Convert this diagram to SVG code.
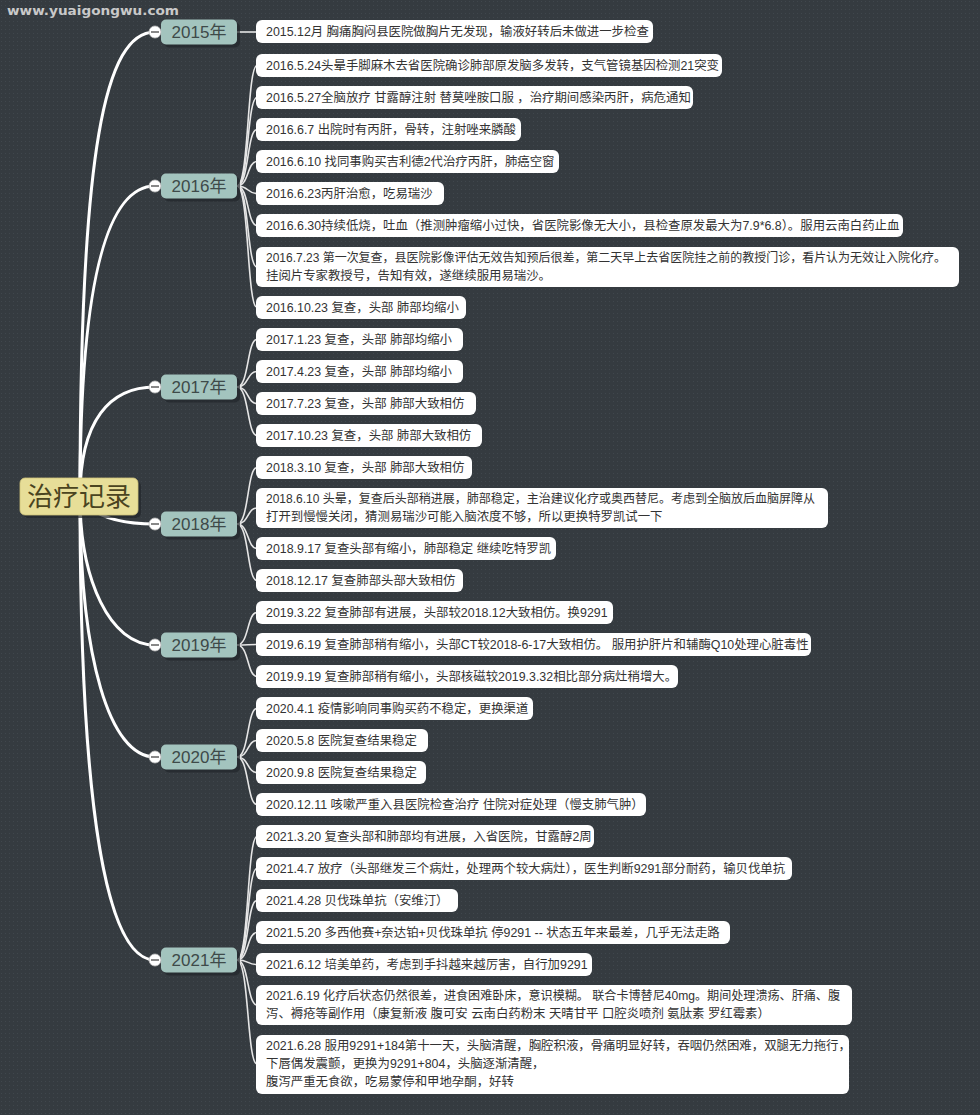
<svg xmlns="http://www.w3.org/2000/svg" width="980" height="1115" viewBox="0 0 980 1115">
<defs>
<pattern id="dots" width="4" height="4" patternUnits="userSpaceOnUse">
<rect width="4" height="4" fill="#353b40"/>
<rect x="1" y="1" width="1" height="1" fill="#40474d"/>
</pattern>
<style>
text{font-family:"Liberation Sans","Noto Sans CJK SC",sans-serif}
.leaf{fill:#ffffff}
.lt{font-size:12.4px;fill:#333333}
.yr{fill:#a3c4be}
.ysh{fill:#22272b;opacity:0.7}
.yt{font-size:17px;fill:#3e4a49;text-anchor:middle}
.main{fill:none;stroke:#ffffff;stroke-width:3;stroke-linecap:round}
.sub{fill:none;stroke:#e6e6e6;stroke-width:1.6}
.tog{fill:#ffffff;stroke:#bfbfbf;stroke-width:0.8}
.minus{stroke:#555;stroke-width:1.4}
</style>
</defs>
<rect width="980" height="1115" fill="url(#dots)"/>
<text x="7" y="15" font-weight="bold" font-size="12" fill="#c9c9c9" textLength="172" lengthAdjust="spacingAndGlyphs" style="font-family:'DejaVu Sans',sans-serif">www.yuaigongwu.com</text>

<g id="connectors">
<path class="main" d="M80,497 C80,150 105,32 155,32"/>
<path class="main" d="M80,497 C80,270 110,186 155,186"/>
<path class="main" d="M80,497 C80,420 110,387 155,387"/>
<path class="main" d="M80,497 C92,516 120,524 155,524"/>
<path class="main" d="M80,497 C80,580 110,645 155,645"/>
<path class="main" d="M80,497 C80,660 110,757 155,757"/>
<path class="main" d="M80,497 C80,800 105,960 155,960"/>
<path class="sub" d="M237,32 L257,32"/>
<path class="sub" d="M237,186 C249,186 247,65.5 257,65.5"/>
<path class="sub" d="M237,186 C249,186 247,97.5 257,97.5"/>
<path class="sub" d="M237,186 C249,186 247,129.5 257,129.5"/>
<path class="sub" d="M237,186 C249,186 247,161.5 257,161.5"/>
<path class="sub" d="M237,186 C249,186 247,193.5 257,193.5"/>
<path class="sub" d="M237,186 C249,186 247,225.5 257,225.5"/>
<path class="sub" d="M237,186 C249,186 247,267 257,267"/>
<path class="sub" d="M237,186 C249,186 247,307.5 257,307.5"/>
<path class="sub" d="M237,387 C249,387 247,339.5 257,339.5"/>
<path class="sub" d="M237,387 C249,387 247,371.5 257,371.5"/>
<path class="sub" d="M237,387 C249,387 247,403.5 257,403.5"/>
<path class="sub" d="M237,387 C249,387 247,435.5 257,435.5"/>
<path class="sub" d="M237,524 C249,524 247,467.5 257,467.5"/>
<path class="sub" d="M237,524 C249,524 247,508 257,508"/>
<path class="sub" d="M237,524 C249,524 247,548.5 257,548.5"/>
<path class="sub" d="M237,524 C249,524 247,580.5 257,580.5"/>
<path class="sub" d="M237,645 C249,645 247,612.5 257,612.5"/>
<path class="sub" d="M237,645 C249,645 247,644.5 257,644.5"/>
<path class="sub" d="M237,645 C249,645 247,676.5 257,676.5"/>
<path class="sub" d="M237,757 C249,757 247,708.5 257,708.5"/>
<path class="sub" d="M237,757 C249,757 247,740.5 257,740.5"/>
<path class="sub" d="M237,757 C249,757 247,772.5 257,772.5"/>
<path class="sub" d="M237,757 C249,757 247,804.5 257,804.5"/>
<path class="sub" d="M237,960 C249,960 247,836.5 257,836.5"/>
<path class="sub" d="M237,960 C249,960 247,868.5 257,868.5"/>
<path class="sub" d="M237,960 C249,960 247,900.5 257,900.5"/>
<path class="sub" d="M237,960 C249,960 247,932.5 257,932.5"/>
<path class="sub" d="M237,960 C249,960 247,964.5 257,964.5"/>
<path class="sub" d="M237,960 C249,960 247,1005 257,1005"/>
<path class="sub" d="M237,960 C249,960 247,1064 257,1064"/>
</g>

<g id="root">
<rect x="23" y="481" width="118" height="37" rx="5" fill="#22272b" opacity="0.7"/>
<rect x="20" y="478" width="118" height="37" rx="5" fill="#e7de98" stroke="#cfc37a" stroke-width="0.8"/>
<text x="79" y="506" font-size="26" fill="#4a4420" text-anchor="middle">治疗记录</text>
</g>

<g id="y2015">
<rect class="ysh" x="164" y="22.5" width="76" height="25" rx="5"/>
<rect class="yr" x="161" y="19.5" width="76" height="25" rx="5"/>
<text class="yt" x="199" y="38">2015年</text>
<circle class="tog" cx="155" cy="32" r="6"/><line class="minus" x1="151" y1="32" x2="159" y2="32"/>
</g>
<g id="y2016">
<rect class="ysh" x="164" y="176.5" width="76" height="25" rx="5"/>
<rect class="yr" x="161" y="173.5" width="76" height="25" rx="5"/>
<text class="yt" x="199" y="192">2016年</text>
<circle class="tog" cx="155" cy="186" r="6"/><line class="minus" x1="151" y1="186" x2="159" y2="186"/>
</g>
<g id="y2017">
<rect class="ysh" x="164" y="377.5" width="76" height="25" rx="5"/>
<rect class="yr" x="161" y="374.5" width="76" height="25" rx="5"/>
<text class="yt" x="199" y="393">2017年</text>
<circle class="tog" cx="155" cy="387" r="6"/><line class="minus" x1="151" y1="387" x2="159" y2="387"/>
</g>
<g id="y2018">
<rect class="ysh" x="164" y="514.5" width="76" height="25" rx="5"/>
<rect class="yr" x="161" y="511.5" width="76" height="25" rx="5"/>
<text class="yt" x="199" y="530">2018年</text>
<circle class="tog" cx="155" cy="524" r="6"/><line class="minus" x1="151" y1="524" x2="159" y2="524"/>
</g>
<g id="y2019">
<rect class="ysh" x="164" y="635.5" width="76" height="25" rx="5"/>
<rect class="yr" x="161" y="632.5" width="76" height="25" rx="5"/>
<text class="yt" x="199" y="651">2019年</text>
<circle class="tog" cx="155" cy="645" r="6"/><line class="minus" x1="151" y1="645" x2="159" y2="645"/>
</g>
<g id="y2020">
<rect class="ysh" x="164" y="747.5" width="76" height="25" rx="5"/>
<rect class="yr" x="161" y="744.5" width="76" height="25" rx="5"/>
<text class="yt" x="199" y="763">2020年</text>
<circle class="tog" cx="155" cy="757" r="6"/><line class="minus" x1="151" y1="757" x2="159" y2="757"/>
</g>
<g id="y2021">
<rect class="ysh" x="164" y="950.5" width="76" height="25" rx="5"/>
<rect class="yr" x="161" y="947.5" width="76" height="25" rx="5"/>
<text class="yt" x="199" y="966">2021年</text>
<circle class="tog" cx="155" cy="960" r="6"/><line class="minus" x1="151" y1="960" x2="159" y2="960"/>
</g>

<g id="n2015a"><rect class="leaf" x="256" y="20" width="397" height="23" rx="6"/><text class="lt" x="266" y="36">2015.12月 胸痛胸闷县医院做胸片无发现，输液好转后未做进一步检查</text></g>

<g id="n2016a"><rect class="leaf" x="256" y="54" width="466" height="23" rx="6"/><text class="lt" x="266" y="70">2016.5.24头晕手脚麻木去省医院确诊肺部原发脑多发转，支气管镜基因检测21突变</text></g>
<g id="n2016b"><rect class="leaf" x="256" y="86" width="437" height="23" rx="6"/><text class="lt" x="266" y="102">2016.5.27全脑放疗 甘露醇注射 替莫唑胺口服 ，治疗期间感染丙肝，病危通知</text></g>
<g id="n2016c"><rect class="leaf" x="256" y="118" width="265" height="23" rx="6"/><text class="lt" x="266" y="134">2016.6.7 出院时有丙肝，骨转，注射唑来膦酸</text></g>
<g id="n2016d"><rect class="leaf" x="256" y="150" width="303" height="23" rx="6"/><text class="lt" x="266" y="166">2016.6.10 找同事购买吉利德2代治疗丙肝，肺癌空窗</text></g>
<g id="n2016e"><rect class="leaf" x="256" y="182" width="188" height="23" rx="6"/><text class="lt" x="266" y="198">2016.6.23丙肝治愈，吃易瑞沙</text></g>
<g id="n2016f"><rect class="leaf" x="256" y="214" width="647" height="23" rx="6"/><text class="lt" x="266" y="230">2016.6.30持续低烧，吐血（推测肿瘤缩小过快，省医院影像无大小，县检查原发最大为7.9*6.8）。服用云南白药止血</text></g>
<g id="n2016g"><rect class="leaf" x="256" y="247" width="703" height="40" rx="6"/><text class="lt" x="266" y="262" textLength="680" lengthAdjust="spacingAndGlyphs">2016.7.23 第一次复查，县医院影像评估无效告知预后很差，第二天早上去省医院挂之前的教授门诊，看片认为无效让入院化疗。</text><text class="lt" x="266" y="280">挂阅片专家教授号，告知有效，遂继续服用易瑞沙。</text></g>
<g id="n2016h"><rect class="leaf" x="256" y="296" width="210" height="23" rx="6"/><text class="lt" x="266" y="312">2016.10.23 复查，头部 肺部均缩小</text></g>

<g id="n2017a"><rect class="leaf" x="256" y="328" width="207" height="23" rx="6"/><text class="lt" x="266" y="344">2017.1.23 复查，头部 肺部均缩小</text></g>
<g id="n2017b"><rect class="leaf" x="256" y="360" width="207" height="23" rx="6"/><text class="lt" x="266" y="376">2017.4.23 复查，头部 肺部均缩小</text></g>
<g id="n2017c"><rect class="leaf" x="256" y="392" width="220" height="23" rx="6"/><text class="lt" x="266" y="408">2017.7.23 复查，头部 肺部大致相仿</text></g>
<g id="n2017d"><rect class="leaf" x="256" y="424" width="226" height="23" rx="6"/><text class="lt" x="266" y="440">2017.10.23 复查，头部 肺部大致相仿</text></g>

<g id="n2018a"><rect class="leaf" x="256" y="456" width="216" height="23" rx="6"/><text class="lt" x="266" y="472">2018.3.10 复查，头部 肺部大致相仿</text></g>
<g id="n2018b"><rect class="leaf" x="256" y="488" width="572" height="40" rx="6"/><text class="lt" x="266" y="503" textLength="549" lengthAdjust="spacingAndGlyphs">2018.6.10 头晕，复查后头部稍进展，肺部稳定，主治建议化疗或奥西替尼。考虑到全脑放后血脑屏障从</text><text class="lt" x="266" y="521">打开到慢慢关闭，猜测易瑞沙可能入脑浓度不够，所以更换特罗凯试一下</text></g>
<g id="n2018c"><rect class="leaf" x="256" y="537" width="300" height="23" rx="6"/><text class="lt" x="266" y="553">2018.9.17 复查头部有缩小，肺部稳定 继续吃特罗凯</text></g>
<g id="n2018d"><rect class="leaf" x="256" y="569" width="207" height="23" rx="6"/><text class="lt" x="266" y="585">2018.12.17 复查肺部头部大致相仿</text></g>

<g id="n2019a"><rect class="leaf" x="256" y="601" width="357" height="23" rx="6"/><text class="lt" x="266" y="617">2019.3.22 复查肺部有进展，头部较2018.12大致相仿。换9291</text></g>
<g id="n2019b"><rect class="leaf" x="256" y="633" width="555" height="23" rx="6"/><text class="lt" x="266" y="649">2019.6.19 复查肺部稍有缩小，头部CT较2018-6-17大致相仿。 服用护肝片和辅酶Q10处理心脏毒性</text></g>
<g id="n2019c"><rect class="leaf" x="256" y="665" width="422" height="23" rx="6"/><text class="lt" x="266" y="681">2019.9.19 复查肺部稍有缩小，头部核磁较2019.3.32相比部分病灶稍增大。</text></g>

<g id="n2020a"><rect class="leaf" x="256" y="697" width="277" height="23" rx="6"/><text class="lt" x="266" y="713">2020.4.1 疫情影响同事购买药不稳定，更换渠道</text></g>
<g id="n2020b"><rect class="leaf" x="256" y="729" width="172" height="23" rx="6"/><text class="lt" x="266" y="745">2020.5.8 医院复查结果稳定</text></g>
<g id="n2020c"><rect class="leaf" x="256" y="761" width="170" height="23" rx="6"/><text class="lt" x="266" y="777">2020.9.8 医院复查结果稳定</text></g>
<g id="n2020d"><rect class="leaf" x="256" y="793" width="390" height="23" rx="6"/><text class="lt" x="266" y="809">2020.12.11 咳嗽严重入县医院检查治疗 住院对症处理（慢支肺气肿）</text></g>

<g id="n2021a"><rect class="leaf" x="256" y="825" width="338" height="23" rx="6"/><text class="lt" x="266" y="841">2021.3.20 复查头部和肺部均有进展，入省医院，甘露醇2周</text></g>
<g id="n2021b"><rect class="leaf" x="256" y="857" width="536" height="23" rx="6"/><text class="lt" x="266" y="873">2021.4.7 放疗（头部继发三个病灶，处理两个较大病灶），医生判断9291部分耐药，输贝伐单抗</text></g>
<g id="n2021c"><rect class="leaf" x="256" y="889" width="202" height="23" rx="6"/><text class="lt" x="266" y="905">2021.4.28 贝伐珠单抗（安维汀）</text></g>
<g id="n2021d"><rect class="leaf" x="256" y="921" width="474" height="23" rx="6"/><text class="lt" x="266" y="937">2021.5.20 多西他赛+奈达铂+贝伐珠单抗 停9291 -- 状态五年来最差，几乎无法走路</text></g>
<g id="n2021e"><rect class="leaf" x="256" y="953" width="336" height="23" rx="6"/><text class="lt" x="266" y="969">2021.6.12 培美单药，考虑到手抖越来越厉害，自行加9291</text></g>
<g id="n2021f"><rect class="leaf" x="256" y="985" width="596" height="40" rx="6"/><text class="lt" x="266" y="1000" textLength="574" lengthAdjust="spacingAndGlyphs">2021.6.19 化疗后状态仍然很差，进食困难卧床，意识模糊。 联合卡博替尼40mg。期间处理溃疡、肝痛、腹</text><text class="lt" x="266" y="1018">泻、褥疮等副作用（康复新液 腹可安 云南白药粉末 天晴甘平 口腔炎喷剂 氨肽素 罗红霉素）</text></g>
<g id="n2021g"><rect class="leaf" x="256" y="1035" width="593" height="59" rx="6"/><text class="lt" x="266" y="1050">2021.6.28 服用9291+184第十一天，头脑清醒，胸腔积液，骨痛明显好转，吞咽仍然困难，双腿无力拖行，</text><text class="lt" x="266" y="1068">下唇偶发震颤，更换为9291+804，头脑逐渐清醒，</text><text class="lt" x="266" y="1086">腹泻严重无食欲，吃易蒙停和甲地孕酮，好转</text></g>
</svg>
